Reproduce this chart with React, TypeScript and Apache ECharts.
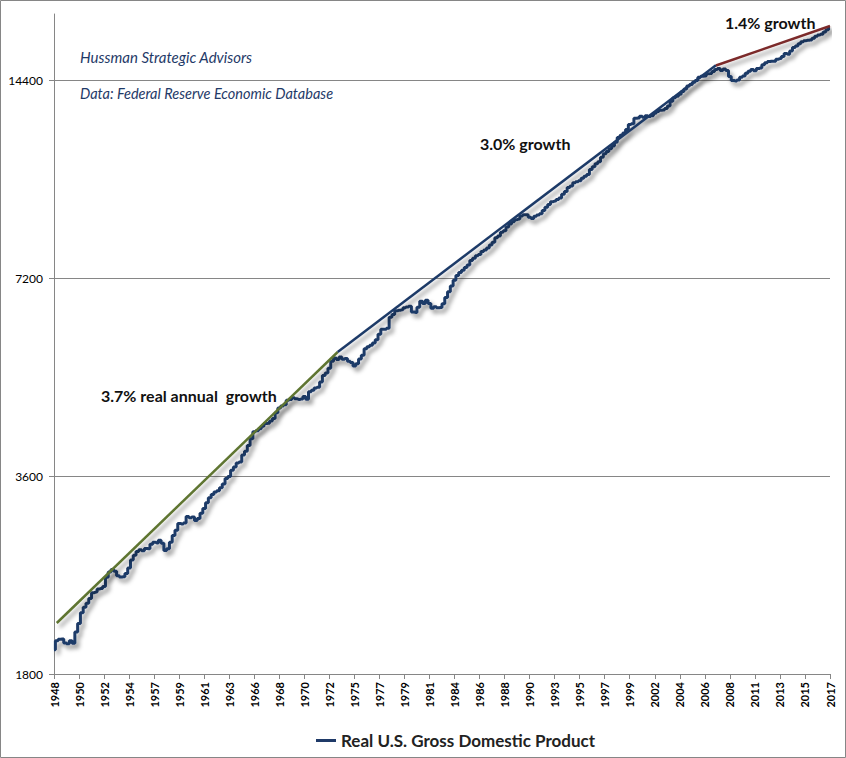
import React, { useEffect, useRef } from "react";
import * as echarts from "echarts";

const startYear = 1948;
const endYear = 2017;

// Real GDP, quarterly 1948Q1 .. 2017Q4 (billions, chained dollars)
const gdp: number[] = [
  1960, 2022, 2033, 2035,
  2007, 2001, 2022, 2005,
  2085, 2148, 2230, 2273,
  2305, 2345, 2393, 2398,
  2424, 2429, 2446, 2526,
  2573, 2594, 2579, 2540,
  2528, 2531, 2559, 2609,
  2684, 2728, 2764, 2781,
  2770, 2793, 2791, 2836,
  2855, 2848, 2876, 2846,
  2773, 2791, 2856, 2922,
  2977, 3049, 3043, 3055,
  3123, 3111, 3119, 3081,
  3102, 3160, 3213, 3278,
  3337, 3373, 3405, 3418,
  3456, 3501, 3570, 3595,
  3673, 3716, 3767, 3780,
  3874, 3926, 4006, 4101,
  4202, 4219, 4249, 4286,
  4325, 4329, 4366, 4401,
  4491, 4566, 4599, 4620,
  4692, 4707, 4736, 4716,
  4707, 4715, 4757, 4708,
  4834, 4862, 4900, 4914,
  5002, 5118, 5165, 5251,
  5381, 5442, 5412, 5462,
  5417, 5431, 5379, 5357,
  5292, 5333, 5421, 5494,
  5619, 5661, 5690, 5733,
  5799, 5913, 6018, 6018,
  6039, 6274, 6335, 6420,
  6433, 6441, 6487, 6504,
  6525, 6393, 6383, 6501,
  6636, 6587, 6663, 6585,
  6475, 6510, 6487, 6493,
  6578, 6728, 6860, 7002,
  7141, 7266, 7338, 7396,
  7470, 7538, 7655, 7713,
  7784, 7820, 7899, 7940,
  7995, 8085, 8158, 8293,
  8339, 8450, 8498, 8611,
  8698, 8766, 8832, 8850,
  8947, 8982, 8984, 8907,
  8866, 8934, 8977, 9016,
  9123, 9224, 9313, 9407,
  9424, 9480, 9526, 9654,
  9748, 9881, 9940, 10053,
  10087, 10122, 10209, 10281,
  10349, 10529, 10627, 10739,
  10821, 10984, 11124, 11210,
  11321, 11431, 11581, 11771,
  11865, 11963, 12113, 12323,
  12359, 12593, 12608, 12679,
  12643, 12710, 12670, 12705,
  12822, 12893, 12956, 12964,
  13031, 13152, 13372, 13529,
  13607, 13706, 13831, 13950,
  14099, 14173, 14292, 14373,
  14546, 14590, 14603, 14717,
  14726, 14839, 14939, 14992,
  14890, 14963, 14892, 14577,
  14375, 14356, 14403, 14542,
  14605, 14746, 14846, 14939,
  14881, 14990, 15021, 15190,
  15291, 15362, 15381, 15384,
  15492, 15522, 15641, 15794,
  15758, 15936, 16140, 16220,
  16350, 16461, 16528, 16548,
  16572, 16664, 16778, 16851,
  16903, 17031, 17164, 17287,
];

// Trend lines: [quarter index, value]
const trend1948: [number, number][] = [[1, 2152], [102, 5557]];
const trend1973: [number, number][] = [[102, 5557], [238, 15170]];
const trend2007: [number, number][] = [[238, 15150], [279, 17400]];

const yTicks = [1800, 3600, 7200, 14400];

const quarters: string[] = [];
for (let y = startYear; y <= endYear; y++) {
  for (let q = 1; q <= 4; q++) quarters.push(`${y} Q${q}`);
}

const NAVY = "#1f3a68";
const FONT = "Lato, 'Open Sans', sans-serif";

export default function App() {
  const ref = useRef<HTMLDivElement>(null);
  useEffect(() => {
    if (!ref.current) return;
    const chart = echarts.init(ref.current, null, { renderer: "svg" });
    const shadow = {
      shadowColor: "rgba(0,0,0,0.4)",
      shadowBlur: 4,
      shadowOffsetX: 3,
      shadowOffsetY: 4,
    };
    chart.setOption({
      animation: false,
      backgroundColor: "#ffffff",
      textStyle: { fontFamily: FONT },
      grid: { left: 54, right: 16, top: 14, bottom: 84, containLabel: false },
      xAxis: {
        type: "category",
        data: quarters,
        boundaryGap: false,
        axisLine: { lineStyle: { color: "#868686", width: 1 } },
        axisTick: { interval: 8, length: 5, lineStyle: { color: "#868686" } },
        axisLabel: {
          interval: 8,
          rotate: 90,
          margin: 8,
          color: "#000",
          fontSize: 11,
          fontWeight: "bold",
          fontFamily: FONT,
          formatter: (v: string) => v.slice(0, 4),
        },
        splitLine: { show: false },
      },
      yAxis: {
        type: "log",
        logBase: 2,
        min: 1800,
        max: 18144,
        axisLine: { show: true, lineStyle: { color: "#868686", width: 1 } },
        axisTick: { show: true, length: 5, customValues: yTicks, lineStyle: { color: "#868686" } },
        axisLabel: {
          customValues: yTicks,
          color: "#000",
          fontSize: 12,
          margin: 11,
          fontFamily: FONT,
          formatter: (v: number) => String(Math.round(v)),
        },
        splitLine: { show: true, lineStyle: { color: "#868686", width: 1 } },
      },
      legend: {
        data: [{ name: "Real U.S. Gross Domestic Product", icon: "rect" }],
        left: 311,
        top: 727,
        itemWidth: 20,
        itemHeight: 3,
        itemGap: 6,
        textStyle: { fontSize: 17, fontWeight: "bold", color: "#222", fontFamily: FONT },
      },
      series: [
        {
          name: "Real U.S. Gross Domestic Product",
          type: "line",
          data: gdp,
          step: "middle",
          symbol: "none",
          lineStyle: { color: NAVY, width: 3, ...shadow },
          itemStyle: { color: NAVY },
          z: 3,
        },
        {
          name: "trend1948",
          type: "line",
          data: trend1948,
          symbol: "none",
          lineStyle: { color: "#5f7530", width: 2.5, ...shadow },
          z: 4,
        },
        {
          name: "trend1973",
          type: "line",
          data: trend1973,
          symbol: "none",
          lineStyle: { color: NAVY, width: 2.5, ...shadow },
          z: 4,
        },
        {
          name: "trend2007",
          type: "line",
          data: trend2007,
          symbol: "none",
          lineStyle: { color: "#7b2a2a", width: 2.5, ...shadow },
          z: 4,
        },
      ],
      graphic: [
        {
          type: "rect",
          shape: { x: 0.5, y: 0.5, width: 845, height: 757 },
          style: { fill: "none", stroke: "#868686", lineWidth: 1 },
          silent: true,
        },
        {
          type: "text",
          x: 80,
          y: 57,
          style: {
            text: "Hussman Strategic Advisors",
            fill: NAVY,
            font: `italic 15px ${FONT}`,
            textVerticalAlign: "middle",
          },
        },
        {
          type: "text",
          x: 80,
          y: 93,
          style: {
            text: "Data: Federal Reserve Economic Database",
            fill: NAVY,
            font: `italic 14.5px ${FONT}`,
            textVerticalAlign: "middle",
          },
        },
        {
          type: "text",
          x: 480,
          y: 143,
          style: { text: "3.0% growth", fill: "#111", font: `bold 16px ${FONT}`, textVerticalAlign: "middle" },
        },
        {
          type: "text",
          x: 101,
          y: 395,
          style: { text: "3.7% real annual  growth", fill: "#111", font: `bold 16px ${FONT}`, textVerticalAlign: "middle" },
        },
        {
          type: "text",
          x: 725,
          y: 22,
          style: { text: "1.4% growth", fill: "#111", font: `bold 16px ${FONT}`, textVerticalAlign: "middle" },
        },
      ],
    });
    return () => chart.dispose();
  }, []);
  return (
    <div
      ref={ref}
      style={{ position: "fixed", left: 0, top: 0, width: 846, height: 758, background: "#fff" }}
    />
  );
}
